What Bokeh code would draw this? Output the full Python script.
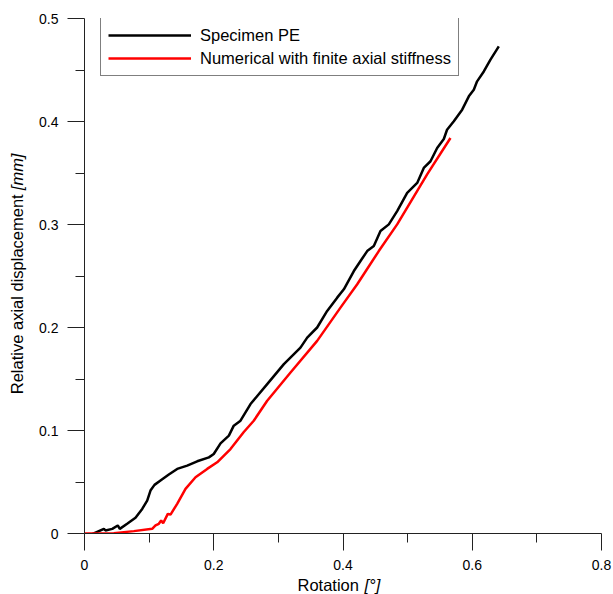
from bokeh.plotting import figure
from bokeh.models import (Legend, LegendItem, Label, FixedTicker, CustomJSTickFormatter, Range1d)
from bokeh.embed import file_html
from bokeh.resources import INLINE
import math

# ---- data ----
pe_x = [0.0, 0.0144, 0.030, 0.0325, 0.043, 0.0515, 0.0546, 0.066, 0.0789, 0.0893, 0.097,
        0.1021, 0.1083, 0.1176, 0.1305, 0.1434, 0.1589, 0.1744, 0.1925, 0.2, 0.2105,
        0.2234, 0.231, 0.2414, 0.2569, 0.2827, 0.3085, 0.3342, 0.3446, 0.36, 0.3755,
        0.391, 0.4013, 0.4168, 0.4271, 0.4374, 0.4477, 0.458, 0.4709, 0.4838, 0.4993,
        0.5148, 0.525, 0.5354, 0.5457, 0.556, 0.561, 0.5715, 0.5844, 0.5947, 0.6024,
        0.6075, 0.6179, 0.6282, 0.6411]
pe_y = [-0.004, 0.000, 0.0045, 0.003, 0.0045, 0.0078, 0.0045, 0.0094, 0.0152, 0.0239, 0.032,
        0.0417, 0.0472, 0.0514, 0.0572, 0.0627, 0.0659, 0.0701, 0.0739, 0.0772, 0.0875,
        0.095, 0.1047, 0.1095, 0.1257, 0.145, 0.1644, 0.1805, 0.1902, 0.2, 0.2161,
        0.229, 0.2371, 0.2548, 0.2645, 0.2742, 0.2791, 0.2936, 0.3001, 0.313, 0.3307,
        0.3404, 0.3549, 0.3614, 0.3743, 0.3830, 0.392, 0.4002, 0.4115, 0.4244, 0.4309,
        0.439, 0.4486, 0.46, 0.4729]

num_x = [0.0, 0.0196, 0.0454, 0.0763, 0.1047, 0.1099, 0.115, 0.1186, 0.1217, 0.1289,
         0.1331, 0.1434, 0.1563, 0.1718, 0.1898, 0.2053, 0.2259, 0.2465, 0.2619, 0.2827,
         0.3188, 0.36, 0.3961, 0.422, 0.4554, 0.4838, 0.5302, 0.5663]
num_y = [0.0, 0.0, 0.0003, 0.0023, 0.0045, 0.0078, 0.0094, 0.0126, 0.010, 0.019,
         0.0184, 0.0288, 0.0433, 0.0546, 0.0627, 0.0691, 0.082, 0.0985, 0.1095, 0.1289,
         0.1563, 0.187, 0.2193, 0.242, 0.2742, 0.3001, 0.3486, 0.384]

x_ticks = [0.0, 0.2, 0.4, 0.6, 0.8]
x_minor = [0.1, 0.3, 0.5, 0.7]
y_ticks = [0.0, 0.1, 0.2, 0.3, 0.4, 0.5]
y_minor = [0.05, 0.15, 0.25, 0.35, 0.45]

series_names = ["Specimen PE", "Numerical with finite axial stiffness"]

FONT = "Liberation Sans"

p = figure(width=613, height=594, output_backend="svg", toolbar_location=None,
           x_range=Range1d(0, 0.8), y_range=Range1d(0, 0.5),
           min_border_left=84, min_border_right=12, min_border_top=17, min_border_bottom=61)
p.outline_line_color = None
p.xgrid.visible = False
p.ygrid.visible = False
p.background_fill_color = "white"
p.border_fill_color = "white"

fmt = CustomJSTickFormatter(code="return tick == 0 ? '0' : tick.toFixed(1);")
p.xaxis.ticker = FixedTicker(ticks=x_ticks, minor_ticks=x_minor)
p.yaxis.ticker = FixedTicker(ticks=y_ticks, minor_ticks=y_minor)
for ax in (p.xaxis, p.yaxis):
    ax.formatter = fmt
    ax.major_tick_out = 17
    ax.major_tick_in = 0
    ax.minor_tick_out = 9
    ax.minor_tick_in = 0
    ax.axis_line_color = "#222222"
    ax.major_tick_line_color = "#222222"
    ax.minor_tick_line_color = "#222222"
    ax.major_label_text_font = FONT
    ax.major_label_text_font_size = "14px"
    ax.major_label_text_color = "black"
    ax.major_label_standoff = 9

r1 = p.line(pe_x, pe_y, line_color="black", line_width=2.5)
r2 = p.line(num_x, num_y, line_color="#ff0000", line_width=2.5)

legend = Legend(items=[LegendItem(label=series_names[0], renderers=[r1]),
                       LegendItem(label=series_names[1], renderers=[r2])],
                location=(16, 457))
legend.margin = 0
legend.padding = 7
legend.spacing = 3
legend.glyph_width = 83
legend.glyph_height = 20
legend.label_height = 20
legend.label_standoff = 9
legend.label_text_font = FONT
legend.label_text_font_size = "16.5px"
legend.label_text_color = "black"
legend.border_line_color = "black"
legend.border_line_width = 1
legend.background_fill_color = "white"
legend.background_fill_alpha = 1.0
p.add_layout(legend)

# axis titles (plain + italic parts); placed in side panels so they are not clipped,
# positioned in data units
common = dict(text_font=FONT, text_font_size="16.5px", text_baseline="middle",
              text_align="left", text_color="black")
p.add_layout(Label(x=0.3296, y=-0.0504, text="Rotation", **common), "below")
p.add_layout(Label(x=0.4333, y=-0.0504, text="[°]", text_font_style="italic",
                   text_line_height=1.0, **common), "above")
p.add_layout(Label(x=-0.1037, y=0.1352, text="Relative axial displacement",
                   angle=math.pi / 2, **common), "left")
p.add_layout(Label(x=-0.1037, y=0.3333, text="[mm]", text_font_style="italic",
                   angle=math.pi / 2, **common), "left")

open("out.html", "w").write(file_html(p, INLINE))
